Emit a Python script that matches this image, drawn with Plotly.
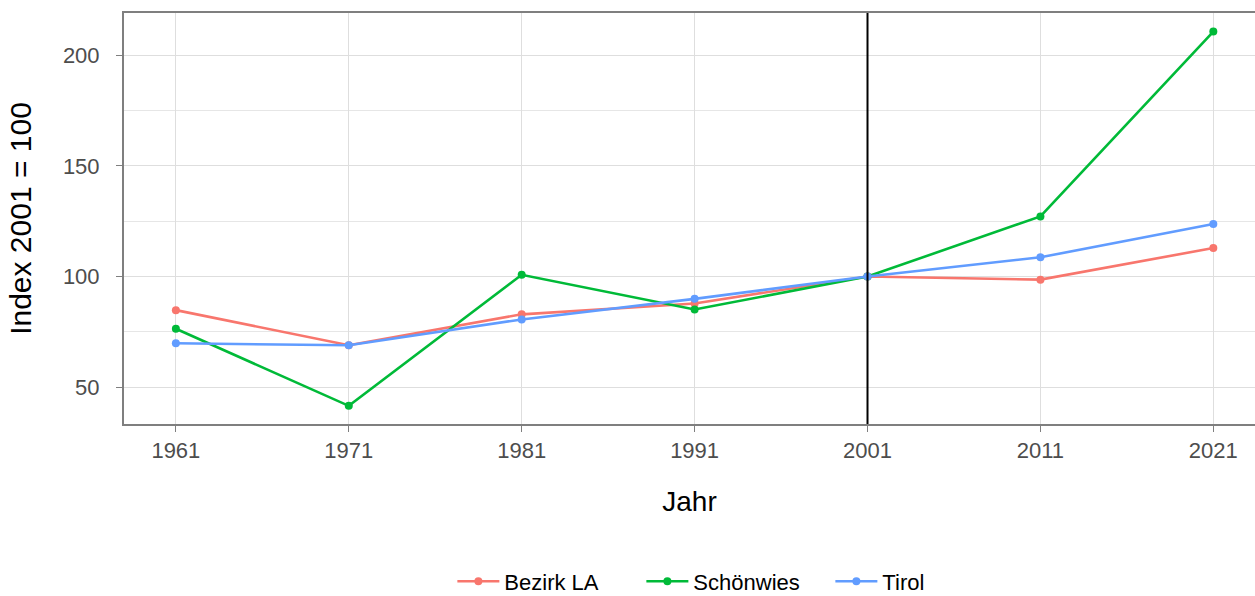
import plotly.graph_objects as go

years = [1961, 1971, 1981, 1991, 2001, 2011, 2021]
bezirk_la = [84.8, 68.9, 82.9, 87.8, 100.0, 98.6, 112.9]
schoenwies = [76.4, 41.5, 100.8, 85.1, 100.0, 127.2, 210.8]
tirol = [69.8, 68.9, 80.6, 89.9, 100.0, 108.7, 123.8]
series_names = ["Bezirk LA", "Schönwies", "Tirol"]
series_colors = ["#F8766D", "#00BA38", "#619CFF"]
ref_year = 2001

fig = go.Figure()
for name, vals, col in zip(series_names, [bezirk_la, schoenwies, tirol], series_colors):
    fig.add_trace(go.Scatter(
        x=years, y=vals, name=name, mode="lines+markers",
        line=dict(color=col, width=2.6),
        marker=dict(color=col, size=8),
    ))

fig.add_vline(x=ref_year, line=dict(color="black", width=2), layer="above")

font_family = "Liberation Sans, Arial, sans-serif"
fig.update_layout(
    width=1255, height=596,
    margin=dict(l=124, r=0, t=13, b=172, autoexpand=False),
    paper_bgcolor="white", plot_bgcolor="white",
    font=dict(family=font_family, size=22, color="black"),
    showlegend=True,
    legend=dict(orientation="h", x=0.541, xanchor="center", y=-0.383, yanchor="middle",
                font=dict(size=22, color="black"), itemwidth=42,
                entrywidth=132, entrywidthmode="pixels"),
    xaxis=dict(
        range=[1958, 2023.41], tickvals=years, ticktext=[str(y) for y in years],
        showgrid=True, gridcolor="#DEDEDE", gridwidth=1.3,
        showline=True, linecolor="#7F7F7F", linewidth=2, mirror=True,
        ticks="outside", ticklen=6, tickcolor="#7F7F7F", tickwidth=1,
        tickfont=dict(size=22, color="#4D4D4D"),
        title=dict(text="Jahr", font=dict(size=28, color="black"), standoff=29),
        zeroline=False, automargin=False,
    ),
    yaxis=dict(
        range=[33.3, 219.2], tick0=0, dtick=50,
        showgrid=True, gridcolor="#DEDEDE", gridwidth=1.3,
        minor=dict(dtick=25, tick0=0, showgrid=True, gridcolor="#E6E6E6", gridwidth=1),
        showline=True, linecolor="#7F7F7F", linewidth=2,
        ticks="outside", ticklen=6, tickcolor="#7F7F7F", tickwidth=1,
        ticklabelstandoff=12,
        tickfont=dict(size=22, color="#4D4D4D"),
        title=dict(text="Index 2001 = 100", font=dict(size=30, color="black"), standoff=22),
        zeroline=False, automargin=False,
    ),
)

fig.write_html(
    "out.html",
    config={"displayModeBar": False},
    post_script="document.body.style.margin='0';document.body.style.padding='0';document.body.style.overflow='hidden';",
)
